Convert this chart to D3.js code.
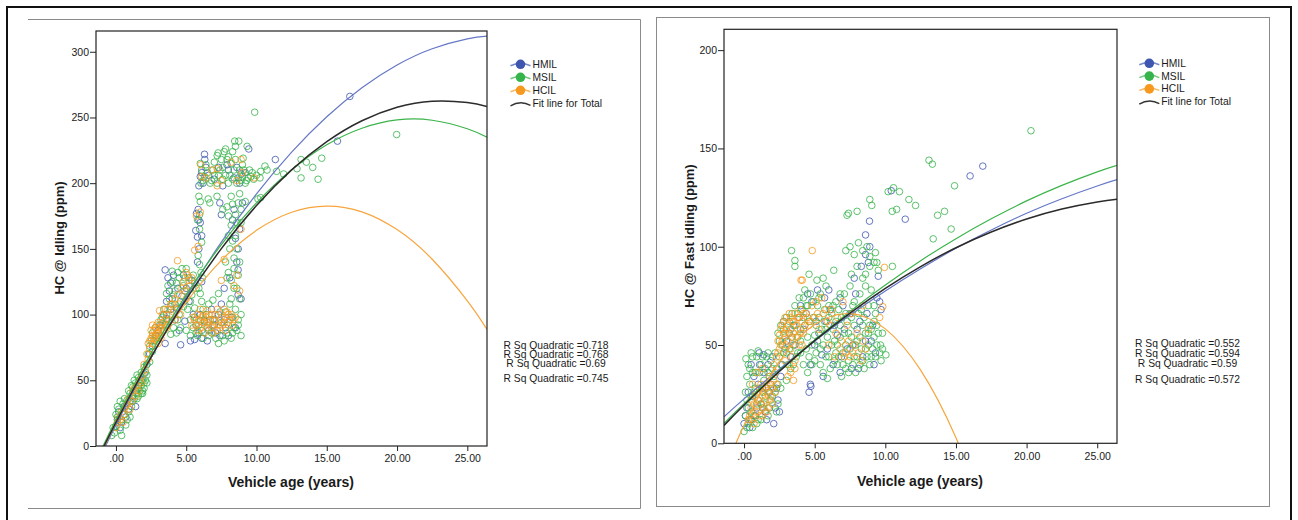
<!DOCTYPE html>
<html lang="en">
  <head>
    <meta charset="utf-8" />
    <title>HC emissions vs vehicle age</title>
    <script src="https://d3js.org/d3.v7.min.js"></script>
    <style>
      body { margin: 0; background: #fff; }
      text { font-family: "Liberation Sans", Arial, sans-serif; fill: #1a1a1a; }
    </style>
  </head>
  <body>
    <div id="chart"></div>
    <script>
      var groups = ["HMIL", "MSIL", "HCIL"];
      var groupColors = ["#3f56b0", "#36b34a", "#f7981f"];
      var fitColors = ["#6577c6", "#3cb44b", "#f8a53e", "#2b2b2b"];

      var xTicks = [0, 5, 10, 15, 20, 25];
      var xTickLabels = [".00", "5.00", "10.00", "15.00", "20.00", "25.00"];
      var idleTicks = [0, 50, 100, 150, 200, 250, 300];
      var fastTicks = [0, 50, 100, 150, 200];

      // HC @ Idling scatter (age, ppm)
      var idleHMIL = [
        [0.1,20],[0.2,26],[0.4,18],[0.6,30],[0.9,28],[1.2,38],[1.6,44],[2.0,55],[2.4,70],[2.8,84],[3.2,92],[3.6,97],
        [0.3,14],[0.7,22],[1.0,34],[1.4,30],[1.8,50],[2.2,62],[2.6,76],[3.0,88],[3.4,100],
        [3.5,78],[3.5,134],[3.7,128],[4.0,112],[3.8,118],[4.3,105],[4.6,77],[4.2,96],[4.8,130],[5.0,120],[4.5,88],
        [3.6,110],[3.9,124],[4.1,130],[4.4,120],[4.7,114],[5.2,110],[5.4,126],[3.9,104],[4.9,95],[5.5,100],
        [5.6,81],[5.9,86],[6.3,95],[6.6,88],[7.0,92],[7.4,84],[7.8,90],[8.2,98],[6.0,100],[6.8,104],[7.5,108],[5.3,80],[6.1,82],
        [6.5,80],[7.1,86],[7.7,96],[8.0,84],[8.5,90],[6.9,96],[5.7,92],[7.3,100],
        [5.85,180],[5.73,177],[5.68,164],[5.8,159],[5.9,150],[6.0,170],[5.8,140],[6.1,125],[5.9,172],[6.1,160],
        [6.32,218],[6.0,205],[6.1,208],[6.2,200],[6.4,212],[7.3,212],[8.4,204],[8.9,207],[9.45,226],[8.0,210],[7.6,198],
        [6.6,206],[7.0,203],[7.9,214],[8.6,212],[9.2,208],[6.3,222],[8.8,200],[5.9,198],
        [7.39,185],[7.5,176],[8.69,115],[8.69,134],[8.5,158],[8.7,150],[8.6,140],[8.3,172],[9.0,185],
        [8.4,180],[8.8,165],[7.7,120],[8.1,128],[8.9,112],
        [11.34,218],[15.76,232],[16.64,266]
      ];
      var idleMSIL = [
        [-0.3,8],[-0.2,14],[-0.1,10],[0.0,15],[0.1,22],[0.2,28],[0.3,12],[0.4,20],[0.5,32],[0.6,24],[0.7,16],[0.8,35],
        [0.9,26],[1.0,40],[1.1,30],[1.2,45],[1.3,36],[1.4,48],[1.5,40],[1.6,52],[1.7,42],[1.8,46],[1.9,50],[2.0,44],
        [2.1,56],[2.2,62],[2.3,70],[2.4,76],[2.5,80],[2.6,86],[2.8,90],[3.0,82],[3.2,96],[3.4,88],[1.5,36],[1.9,42],
        [2.2,48],[0.0,24],[0.1,30],[0.3,34],[0.4,8],[0.6,36],[0.8,20],[0.9,42],[1.0,22],[1.1,46],[1.2,34],[1.3,50],
        [1.4,42],[1.5,54],[1.6,38],[1.7,48],[1.8,56],[1.9,40],[2.0,60],[2.1,50],[2.2,54],[2.4,64],[2.6,72],[2.7,80],
        [2.9,84],[3.1,92],[3.3,98],[3.5,92],[1.6,46],[1.8,40],[2.0,48],
        [3.6,100],[3.8,112],[4.0,125],[4.2,118],[4.4,132],[4.6,110],[4.8,122],[5.0,135],[5.2,128],[4.1,90],[4.5,100],
        [3.9,85],[5.4,115],[5.6,105],[3.7,95],[3.9,106],[4.1,115],[4.3,124],[4.5,128],[4.7,135],[4.9,118],[5.1,104],
        [5.3,96],[5.0,88],[4.3,86],[4.8,106],[5.5,130],[5.7,120],[3.7,122],[4.0,133],[4.6,90],
        [3.4,104],[3.6,116],[4.2,108],[4.4,96],[4.9,128],[5.3,110],[5.6,124],
        [5.5,90],[5.8,84],[6.2,82],[6.5,90],[6.8,86],[7.1,82],[7.3,78],[7.6,84],[8.0,92],[8.3,98],[8.6,88],[6.4,100],
        [7.0,96],[7.8,102],[8.5,104],[6.0,95],[8.8,112],[8.4,120],[8.2,126],[8.0,132],[7.3,116],[6.9,111],[6.6,108],
        [8.9,84],[5.3,84],[5.6,98],[5.9,92],[6.1,88],[6.3,96],[6.6,84],[6.9,92],[7.2,88],[7.5,94],[7.7,80],[7.9,86],
        [8.2,82],[8.4,90],[8.7,96],[8.9,100],[6.7,96],[7.4,102],[8.1,108],[8.7,92],[6.2,104],[5.7,86],[8.3,86],
        [5.9,190],[6.0,186],[5.8,172],[5.95,165],[5.85,145],[6.05,132],[5.9,120],[6.1,110],[6.05,200],[5.95,176],
        [6.1,155],[5.95,138],[6.15,128],[6.0,116],
        [6.56,188],[7.19,190],[6.68,185],[7.9,182],[8.3,184],[8.7,185],[8.0,175],[8.2,168],[8.5,160],[8.6,170],[8.1,150],
        [8.4,143],[8.7,130],[7.8,140],[8.9,180],[9.2,186],[10.1,188],[7.6,180],[8.2,190],[8.8,192],[8.5,176],[8.9,170],
        [8.3,156],[8.6,150],[8.0,160],[8.4,135],[8.6,120],[7.9,128],[8.2,112],[8.8,140],
        [8.45,232],[8.74,232],[9.33,228],[7.27,223],[7.2,221],[7.5,218],[7.7,224],[8.0,220],[8.2,215],[8.5,218],[8.8,210],
        [9.0,205],[9.3,202],[9.6,205],[7.8,206],[8.3,203],[8.6,200],[9.1,210],[6.0,215],[6.1,210],[6.2,202],[6.5,208],
        [6.8,202],[7.0,206],[7.4,210],[9.8,203],[10.3,209],[10.6,213],[10.75,210],[10.25,204],[10.3,189],
        [7.0,216],[7.3,206],[7.6,212],[7.9,218],[8.1,206],[8.4,210],[8.7,204],[9.0,214],[9.2,200],[9.5,210],[6.4,214],
        [6.7,200],[6.9,210],[7.2,200],[7.6,203],[8.0,200],[8.9,202],[9.4,204],[7.8,226],[8.3,224],[6.3,205],[9.7,208],
        [10.0,206],[8.5,228],[9.05,219],
        [9.87,254],[19.97,237],[14.64,219],[13.55,216],[13.17,218],[14.0,212],[12.88,211],[13.17,204],[14.38,203],
        [11.93,207],[11.43,209]
      ];
      var idleHCIL = [
        [0.0,14],[0.2,22],[0.4,26],[0.5,18],[0.7,30],[0.9,36],[1.0,28],[1.2,42],[1.4,38],[1.5,46],[1.7,50],[1.9,54],
        [2.1,58],[2.3,66],[2.4,74],[2.5,82],[2.6,78],[2.7,88],[2.8,84],[2.9,92],[3.0,86],[3.1,90],[3.2,82],[3.3,94],
        [3.4,88],[3.6,90],[3.8,96],[0.1,18],[0.3,20],[0.6,24],[0.8,32],[1.1,34],[1.3,44],[1.6,42],[1.8,48],[2.0,62],
        [2.2,70],[2.4,80],[2.5,88],[2.6,92],[2.7,82],[2.8,90],[2.9,86],[3.0,94],[3.1,84],[3.2,88],[3.3,90],[3.5,96],
        [3.7,92],[3.9,100],[2.3,78],[2.6,84],[2.9,80],[3.0,78],
        [4.38,141],[3.1,103],[3.5,104],[4.0,108],[4.4,115],[4.8,125],[5.1,130],[5.3,122],[4.6,100],[4.2,96],[5.0,112],
        [3.3,100],[3.7,104],[4.1,102],[4.5,108],[4.9,118],[5.2,126],[5.0,132],[5.4,128],[4.7,120],[4.2,112],[4.4,104],
        [3.9,108],
        [5.4,92],[5.6,96],[5.8,100],[6.0,90],[6.2,94],[6.4,98],[6.6,92],[6.8,100],[7.0,95],[7.2,88],[7.4,96],[7.6,92],
        [7.8,98],[8.0,94],[8.2,100],[8.4,96],[6.3,86],[6.9,86],[7.7,104],[6.5,103],[5.5,98],[5.7,92],[5.9,96],[6.1,98],
        [6.3,92],[6.5,94],[6.7,96],[6.9,92],[7.1,100],[7.3,92],[7.5,98],[7.7,94],[7.9,102],[8.1,96],[8.3,92],[8.5,98],
        [6.0,104],[6.6,100],[7.2,104],[7.8,88],[6.8,90],[8.0,100],[7.4,90],[6.2,99],[5.8,88],
        [5.85,152],[5.6,149],[5.73,175],[6.0,178],
        [6.04,214],[7.2,211],[7.2,198],[6.1,205],[9.83,204],[8.9,218],[9.0,208],[8.6,202],[6.4,204],[7.5,202],[8.2,216],
        [6.8,210],
        [8.6,130],[8.4,122],[8.9,165],[7.7,142],[8.8,118],[7.5,126]
      ];

      // HC @ Fast idling scatter (age, ppm)
      var fastHMIL = [
        [0.0,10],[0.2,18],[0.4,8],[0.6,24],[0.8,14],[1.0,30],[1.2,20],[1.4,36],[1.6,12],[1.8,26],[2.0,44],[2.2,18],
        [2.4,22],[2.6,34],[1.07,46],[1.4,45],[0.5,40],[0.1,14],[0.3,26],[0.5,12],[0.7,34],[0.9,18],[1.1,40],[1.3,28],
        [1.5,16],[1.7,40],[1.9,30],[2.1,10],[2.3,28],[2.5,16],[2.7,40],[2.9,48],
        [3.0,52],[3.5,60],[4.0,70],[4.5,76],[4.69,30],[4.73,29],[5.0,50],[5.5,45],[5.8,62],[6.0,78],[6.3,40],[6.6,55],
        [7.0,70],[7.3,48],[7.6,38],[8.0,58],[8.4,44],[8.7,66],[9.0,52],[9.4,74],[9.7,68],[2.8,62],[3.3,44],[5.2,78],
        [7.8,84],[8.3,90],[8.6,96],[8.8,92],[6.8,36],[5.6,34],[3.2,56],[3.6,50],[3.9,64],[4.2,58],[4.4,66],[4.8,72],
        [5.1,62],[5.3,56],[5.7,74],[6.1,68],[6.4,60],[6.8,74],[7.1,58],[7.5,66],[7.7,50],[8.2,62],[8.6,52],[9.1,60],
        [9.3,46],[9.6,72],[6.9,44],[8.1,38],[9.2,40],[5.9,48],[4.7,40],[4.6,26],
        [8.6,106],[8.88,113],[10.42,128.5],[11.41,114],[16.9,141],[16.0,136],[8.9,100],[7.9,76],[9.5,85]
      ];
      var fastMSIL = [
        [0.0,6],[0.1,14],[0.2,22],[0.3,10],[0.4,30],[0.5,16],[0.6,8],[0.7,26],[0.8,36],[0.9,20],[1.0,12],[1.1,28],
        [1.2,40],[1.3,18],[1.4,32],[1.5,24],[1.6,44],[1.7,14],[1.8,34],[1.9,22],[2.0,38],[2.1,28],[2.2,46],[2.3,16],
        [2.4,30],[2.5,52],[2.6,40],[2.8,58],[0.3,40],[0.6,44],[0.2,34],[1.0,47],[0.13,43],
        [0.1,26],[0.2,8],[0.3,18],[0.4,12],[0.5,24],[0.6,36],[0.7,14],[0.8,28],[0.9,10],[1.0,22],[1.1,36],[1.2,12],
        [1.3,26],[1.4,20],[1.5,38],[1.6,28],[1.7,36],[1.8,18],[1.9,42],[2.0,24],[2.1,34],[2.2,26],[2.3,38],[2.4,20],
        [2.5,44],[2.6,28],[2.7,50],[2.8,46],[2.9,54],[0.5,46],[0.4,38],[0.9,44],[1.3,44],[1.7,46],
        [3.0,46],[3.2,62],[3.4,54],[3.6,70],[3.8,66],[4.0,58],[4.2,74],[4.4,48],[3.36,98],[3.6,93],[3.6,90],[2.6,60],
        [2.4,56],[3.0,32],[3.3,38],[3.5,40],[3.0,64],[3.1,40],[3.2,48],[3.3,58],[3.4,66],[3.5,50],[3.6,60],[3.7,44],
        [3.8,54],[3.9,74],[4.0,46],[4.1,68],[4.2,40],[4.3,60],[4.4,70],[4.5,54],
        [4.6,62],[4.8,40],[5.0,55],[5.2,70],[5.4,48],[5.6,36],[5.8,58],[6.0,44],[6.2,66],[6.4,52],[6.6,40],[6.8,60],
        [7.0,46],[7.2,38],[7.4,56],[7.6,64],[7.8,44],[8.0,52],[8.2,40],[8.4,60],[8.6,48],[8.8,56],[9.0,44],[9.2,62],
        [9.4,50],[9.66,50],[10.04,45],[9.8,56],[4.5,36],[5.9,33],[6.9,34],[7.9,36],[8.5,38],[6.5,72],[5.16,83],[6.35,88],
        [5.8,80],[7.1,76],[4.6,44],[4.7,76],[4.8,50],[4.9,64],[5.0,42],[5.1,60],[5.2,52],[5.3,64],[5.4,40],[5.5,58],
        [5.6,50],[5.7,68],[5.8,44],[5.9,54],[6.0,64],[6.1,38],[6.2,50],[6.3,58],[6.4,42],[6.5,62],[6.6,50],[6.7,44],
        [6.8,54],[6.9,64],[7.0,40],[7.1,56],[7.2,50],[7.3,62],[7.4,42],[7.5,48],[7.6,54],[7.7,40],[7.8,60],[7.9,50],
        [8.0,44],[8.1,66],[8.2,54],[8.3,48],[8.4,42],[8.5,64],[8.6,56],[8.7,44],[8.8,50],[8.9,60],[9.0,58],[9.1,48],
        [9.2,54],[9.3,44],[9.4,60],[9.5,56],[9.6,46],[9.8,48],[8.2,76],[8.6,80],[9.0,78],[7.8,72],[8.4,84],[9.2,70],
        [8.9,90],[9.4,92],[7.5,80],[6.8,76],[6.0,70],[5.4,76],[4.3,78],[4.6,86],[5.6,84],
        [4.2,64],[4.5,70],[4.9,72],[5.3,74],[5.7,62],[6.3,70],[6.7,68],[7.2,66],[7.7,70],[8.3,68],[8.8,70],[9.3,66],
        [4.0,52],[3.8,46],[5.1,46],[6.5,46],[7.4,36],[8.9,40],[9.7,42],
        [7.2,98],[7.5,100],[7.8,96],[8.1,102],[8.4,98],[8.7,100],[8.9,95],[9.2,92],[9.5,88],[9.3,97],[7.29,116],
        [7.39,117],[8.0,118],[8.9,124],[9.04,121],[8.6,86],[8.0,90],[7.6,86],[10.5,90],
        [20.31,159],[13.09,144],[13.33,142],[14.9,131],[10.58,130],[11.0,128],[11.67,124],[12.14,121],[10.49,118],
        [10.8,119],[14.19,118],[13.7,116],[14.66,109],[13.39,104],[10.2,128]
      ];
      var fastHCIL = [
        [0.3,12],[0.5,18],[0.7,10],[0.8,24],[1.0,16],[1.1,28],[1.2,20],[1.3,14],[1.4,26],[1.5,22],[1.6,30],[1.7,18],
        [1.8,34],[1.9,24],[2.0,28],[0.6,30],[0.9,36],[1.3,38],[2.1,40],[2.3,44],[0.4,14],[0.5,22],[0.6,12],[0.7,20],
        [0.8,16],[0.9,26],[1.0,22],[1.1,14],[1.2,30],[1.3,24],[1.4,18],[1.5,28],[1.6,16],[1.7,26],[1.8,22],[1.9,30],
        [2.0,20],[2.1,32],[2.2,26],[2.2,36],[2.3,30],
        [2.4,46],[2.5,55],[2.6,50],[2.7,60],[2.8,56],[2.9,64],[3.0,58],[3.1,52],[3.2,66],[3.3,48],[3.4,62],[3.5,56],
        [3.6,42],[3.7,60],[3.8,64],[3.9,50],[4.0,68],[4.1,62],[4.2,56],[3.3,36],[3.5,32],[4.12,83],[4.83,98],[4.03,83],
        [2.4,52],[2.5,48],[2.6,58],[2.7,52],[2.8,62],[2.9,56],[3.0,50],[3.1,60],[3.2,56],[3.3,64],[3.4,54],[3.5,62],
        [3.6,66],[3.7,54],[3.8,58],[3.9,64],[4.0,56],[4.1,50],[4.2,66],[4.3,60],[3.2,40],[3.4,44],[3.1,34],[2.9,42],
        [3.6,38],
        [4.4,66],[4.6,60],[4.8,70],[5.0,64],[5.3,58],[5.6,66],[5.9,62],[6.2,68],[6.5,56],[6.8,48],[7.1,44],[7.4,52],
        [7.7,46],[8.0,56],[8.3,42],[8.6,48],[6.0,50],[6.4,44],[7.0,72],[7.6,66],[8.4,70],[9.82,69.5],[9.94,89.5],
        [9.6,64],[5.1,72],[5.5,74],[4.5,64],[4.7,62],[5.2,66],[5.8,68],[6.1,60],[6.6,64],[6.9,52],[7.2,46],[7.5,44],
        [7.8,50],[8.1,46],[8.4,52],[8.8,58],[7.3,60]
      ];

      var fitAges = [-1.42, 0, 2.5, 5, 7.5, 10, 12.5, 15, 17.5, 20, 22.5, 25, 26.4];
      var idleFitHMIL = [-15.3, 16, 67.2, 113.6, 155.1, 191.8, 223.6, 250.5, 272.6, 289.9, 302.3, 309.8, 311.9];
      var idleFitMSIL = [-11.6, 20.1, 70.8, 115.2, 153.3, 185.0, 210.3, 229.2, 241.8, 248.1, 247.9, 241.4, 235.0];
      var idleFitHCIL = [-14.6, 17.9, 68.1, 109.2, 141.2, 164.1, 177.9, 182.6, 178.2, 164.7, 142.1, 110.4, 88.7];
      var idleFitTotal = [-12.7, 18.0, 67.7, 111.8, 150.2, 183.0, 210.1, 231.6, 247.5, 257.8, 262.4, 261.4, 258.4];
      var fastFitHMIL = [13.5, 22.6, 37.7, 52.0, 65.2, 77.5, 88.8, 99.2, 108.5, 117.0, 124.4, 130.9, 134.1];
      var fastFitMSIL = [10.2, 20.2, 36.9, 52.6, 67.1, 80.5, 92.9, 104.1, 114.2, 123.3, 131.2, 138.1, 141.4];
      var fastFitHCIL = [-15.0, 9.2, 41.4, 60.4, 66.0, 58.2, 37.2, 2.8, -44.9, -105.9, -180.3, -268, -322.9];
      var fastFitTotal = [9.1, 19.5, 36.6, 52.2, 66.2, 78.8, 89.9, 99.5, 107.5, 114.1, 119.2, 122.8, 124.1];

      var idleRsq = ["R Sq Quadratic =0.718", "R Sq Quadratic =0.768", "R Sq Quadratic =0.69", "R Sq Quadratic =0.745"];
      var fastRsq = ["R Sq Quadratic =0.552", "R Sq Quadratic =0.594", "R Sq Quadratic =0.59", "R Sq Quadratic =0.572"];

      var width = 1298;
      var height = 520;

      var svg = d3
        .select("#chart")
        .append("svg")
        .attr("width", width)
        .attr("height", height)
        .style("display", "block");

      svg.append("rect").attr("width", width).attr("height", height).attr("fill", "#fff");

      // outer black border
      svg
        .append("rect")
        .attr("x", 7)
        .attr("y", 7)
        .attr("width", 1284)
        .attr("height", 530)
        .attr("fill", "none")
        .attr("stroke", "#111")
        .attr("stroke-width", 2);

      // panel frames
      svg
        .append("path")
        .attr("d", "M28,19.5H640.5V508.5H28")
        .attr("fill", "none")
        .attr("stroke", "#8a8a8a")
        .attr("stroke-width", 1);
      svg
        .append("rect")
        .attr("x", 656.5)
        .attr("y", 17.5)
        .attr("width", 613)
        .attr("height", 489)
        .attr("fill", "none")
        .attr("stroke", "#8a8a8a")
        .attr("stroke-width", 1);

      function drawPanel(p) {
        var g = svg.append("g");

        var x = d3.scaleLinear().domain([-1.42, 26.4]).range([p.x0, p.x1]);
        var y = d3.scaleLinear().domain([0, p.yMax]).range([p.y1, p.y0]);

        var clipId = "clip-" + p.id;
        g.append("clipPath")
          .attr("id", clipId)
          .append("rect")
          .attr("x", p.x0)
          .attr("y", p.y0)
          .attr("width", p.x1 - p.x0)
          .attr("height", p.y1 - p.y0);

        // axes
        var xAxis = g
          .append("g")
          .attr("transform", "translate(0," + p.y1 + ")")
          .call(
            d3.axisBottom(x)
              .tickValues(xTicks)
              .tickFormat(function (d, i) { return xTickLabels[i]; })
              .tickSize(5)
              .tickPadding(4)
          );
        var yAxis = g
          .append("g")
          .attr("transform", "translate(" + p.x0 + ",0)")
          .call(d3.axisLeft(y).tickValues(p.ticks).tickFormat(d3.format("d")).tickSize(6).tickPadding(1));

        [xAxis, yAxis].forEach(function (a) {
          a.select(".domain").remove();
          a.selectAll(".tick line").attr("stroke", "#222");
          a.selectAll(".tick text")
            .attr("fill", "#1a1a1a")
            .style("font-family", "'Liberation Sans', Arial, sans-serif")
            .style("font-size", "10.5px");
        });

        // scatter
        var plot = g.append("g").attr("clip-path", "url(#" + clipId + ")");
        p.series.forEach(function (s, i) {
          plot
            .append("g")
            .selectAll("circle")
            .data(s)
            .join("circle")
            .attr("cx", function (d) { return x(d[0]); })
            .attr("cy", function (d) { return y(d[1]); })
            .attr("r", 3.3)
            .attr("fill", "none")
            .attr("stroke", groupColors[i])
            .attr("stroke-opacity", 0.8)
            .attr("stroke-width", 1);
        });

        // fit lines
        var line = d3
          .line()
          .x(function (d, i) { return x(fitAges[i]); })
          .y(function (d) { return y(d); })
          .curve(d3.curveNatural);
        p.fits.forEach(function (f, i) {
          plot
            .append("path")
            .datum(f)
            .attr("fill", "none")
            .attr("stroke", fitColors[i])
            .attr("stroke-width", i === 3 ? 1.5 : 1.2)
            .attr("d", line);
        });

        // plot frame
        g.append("rect")
          .attr("x", p.x0)
          .attr("y", p.y0)
          .attr("width", p.x1 - p.x0)
          .attr("height", p.y1 - p.y0)
          .attr("fill", "none")
          .attr("stroke", "#222")
          .attr("stroke-width", 1.2);

        // axis titles
        g.append("text")
          .attr("x", p.xTitleX)
          .attr("y", p.xTitleY)
          .attr("text-anchor", "middle")
          .style("font-size", "14px")
          .style("font-weight", "bold")
          .text("Vehicle age (years)");
        g.append("text")
          .attr("transform", "translate(" + p.yTitleX + "," + p.yTitleY + ") rotate(-90)")
          .attr("text-anchor", "middle")
          .style("font-size", "13px")
          .style("font-weight", "bold")
          .text(p.yTitle);

        // legend
        var legend = g.append("g");
        groups.forEach(function (name, i) {
          var cy = p.legY + i * p.legStep;
          legend
            .append("path")
            .attr("d", "M" + (p.legX - 10) + "," + (cy + 1.5) + "Q" + p.legX + "," + (cy - 3) + " " + (p.legX + 10) + "," + (cy + 1.5))
            .attr("fill", "none")
            .attr("stroke", groupColors[i])
            .attr("stroke-opacity", 0.7)
            .attr("stroke-width", 1.5);
          legend
            .append("circle")
            .attr("cx", p.legX)
            .attr("cy", cy)
            .attr("r", 4.8)
            .attr("fill", groupColors[i]);
          legend
            .append("text")
            .attr("x", p.legX + 12)
            .attr("y", cy + 3.4)
            .style("font-size", "10.3px")
            .text(name);
        });
        var fy = p.legY + 3 * p.legStep;
        legend
          .append("path")
          .attr("d", "M" + (p.legX - 10) + "," + (fy + 2.5) + "Q" + p.legX + "," + (fy - 3.5) + " " + (p.legX + 10) + "," + (fy + 2))
          .attr("fill", "none")
          .attr("stroke", "#333")
          .attr("stroke-width", 1.5);
        legend
          .append("text")
          .attr("x", p.legX + 12)
          .attr("y", fy + 3.4)
          .style("font-size", "10.3px")
          .text("Fit line for Total");

        // R squared labels
        p.rsq.forEach(function (t, i) {
          g.append("text")
            .attr("x", p.rsqX)
            .attr("y", p.rsqY[i])
            .attr("text-anchor", "middle")
            .style("font-size", "10.3px")
            .text(t);
        });
      }

      drawPanel({
        id: "idle",
        x0: 96, x1: 487, y0: 31, y1: 446, yMax: 315.8,
        ticks: idleTicks,
        series: [idleHMIL, idleMSIL, idleHCIL],
        fits: [idleFitHMIL, idleFitMSIL, idleFitHCIL, idleFitTotal],
        yTitle: "HC @ Idling (ppm)",
        yTitleX: 63.5, yTitleY: 238,
        xTitleX: 291, xTitleY: 486.5,
        legX: 520.5, legY: 64.3, legStep: 13,
        rsq: idleRsq, rsqX: 556, rsqY: [348.5, 357.7, 366.5, 382.3]
      });

      drawPanel({
        id: "fast",
        x0: 724, x1: 1117, y0: 29.3, y1: 443.3, yMax: 210.6,
        ticks: fastTicks,
        series: [fastHMIL, fastMSIL, fastHCIL],
        fits: [fastFitHMIL, fastFitMSIL, fastFitHCIL, fastFitTotal],
        yTitle: "HC @ Fast idling (ppm)",
        yTitleX: 693.5, yTitleY: 236,
        xTitleX: 920, xTitleY: 485.5,
        legX: 1149.3, legY: 63.3, legStep: 12.8,
        rsq: fastRsq, rsqX: 1187.5, rsqY: [347.3, 356.7, 366.7, 383.3]
      });
    </script>
  </body>
</html>
